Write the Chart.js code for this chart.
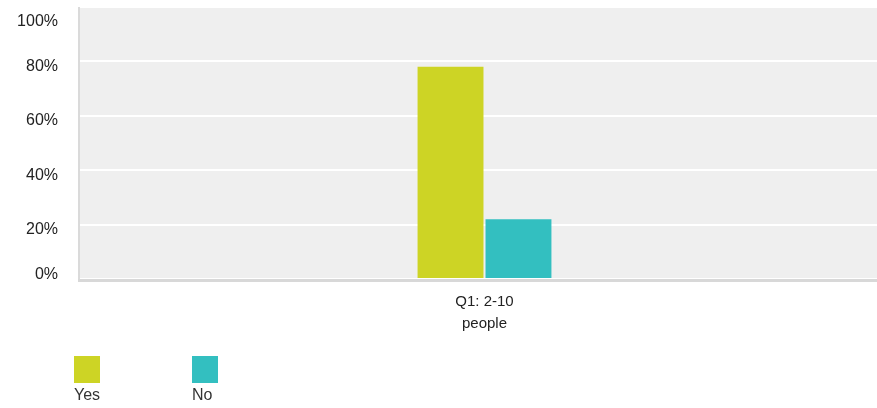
<!DOCTYPE html>
<html>
<head>
<meta charset="utf-8">
<script src="https://cdn.jsdelivr.net/npm/chart.js@4.4.1/dist/chart.umd.min.js"></script>
<style>
  html, body { margin: 0; padding: 0; background: #fff; overflow: hidden; }
  #wrap { width: 889px; height: 408px; }
</style>
</head>
<body>
<div id="wrap"><canvas id="survey-chart"></canvas></div>
<script>
// chart data
const categories = [['Q1: 2-10', 'people']];
const seriesNames = ['Yes', 'No'];
const yesValues = [78];
const noValues = [22];
const seriesColors = ['#CDD425', '#33BFC0'];
const yTicks = [0, 20, 40, 60, 80, 100];

// grey plot background + bottom axis line
const plotBackground = {
    id: 'plotBackground',
    beforeDraw(chart) {
        const { ctx, chartArea } = chart;
        ctx.save();
        ctx.fillStyle = '#EFEFEF';
        ctx.fillRect(chartArea.left, chartArea.top, chartArea.right - chartArea.left, chartArea.bottom - chartArea.top);
        ctx.fillStyle = '#DADADA';
        ctx.fillRect(chartArea.left - 2, chartArea.top, 2, chartArea.bottom - chartArea.top + 2);
        ctx.restore();
    },
    afterDatasetsDraw(chart) {
        const { ctx, chartArea } = chart;
        ctx.save();
        ctx.fillStyle = '#D8D8D8';
        ctx.fillRect(chartArea.left - 2, chartArea.bottom, chartArea.right - chartArea.left + 2, 3);
        ctx.restore();
    }
};

// legend: swatch on top, label underneath
const stackedLegend = {
    id: 'stackedLegend',
    afterDraw(chart) {
        const { ctx } = chart;
        ctx.save();
        ctx.font = '16px "Liberation Sans", Arial, sans-serif';
        ctx.textBaseline = 'top';
        chart.data.datasets.forEach((ds, i) => {
            const x = 74 + i * 118;
            ctx.fillStyle = ds.backgroundColor;
            ctx.fillRect(x, 356, 26, 27);
            ctx.fillStyle = '#333';
            ctx.fillText(ds.label, x, 388);
        });
        ctx.restore();
    }
};

// end labels sit inside the plot, like the original
function yLabel(v) {
    const text = v + '%';
    if (v === yTicks[yTicks.length - 1]) return ['', text];
    if (v === yTicks[0]) return [text, ''];
    return text;
}

const canvas = document.getElementById('survey-chart');
if (canvas) {
    new Chart(canvas.getContext('2d'), {
        type: 'bar',
        data: {
            labels: categories,
            datasets: [
                { label: seriesNames[0], data: yesValues, backgroundColor: seriesColors[0] },
                { label: seriesNames[1], data: noValues, backgroundColor: seriesColors[1] }
            ]
        },
        options: {
            responsive: true,
            maintainAspectRatio: false,
            animation: false,
            layout: { padding: { top: 7, right: 0, left: 0, bottom: 0 } },
            datasets: { bar: { categoryPercentage: 0.168, barPercentage: 0.97 } },
            plugins: {
                legend: { display: false },
                tooltip: { enabled: false }
            },
            scales: {
                x: {
                    grid: { display: false },
                    border: { display: false },
                    ticks: {
                        color: '#222',
                        padding: 4,
                        font: { family: '"Liberation Sans", Arial, sans-serif', size: 15, lineHeight: 1.45 }
                    },
                    afterFit(scale) { scale.height = 129; }
                },
                y: {
                    min: 0,
                    max: 100,
                    afterBuildTicks(scale) { scale.ticks = yTicks.map(v => ({ value: v })); },
                    grid: { color: '#FFFFFF', lineWidth: 2, drawTicks: false },
                    border: { display: false },
                    ticks: {
                        color: '#222',
                        padding: 22,
                        labelOffset: 5,
                        font: { family: '"Liberation Sans", Arial, sans-serif', size: 16, lineHeight: 1.15 },
                        callback: yLabel
                    },
                    afterFit(scale) {
                        scale.width = 80;
                        scale.paddingTop = 0;
                        scale.paddingBottom = 0;
                    }
                }
            }
        },
        plugins: [plotBackground, stackedLegend]
    });
} else {
    console.error('Error: survey-chart canvas not found!');
}
</script>
</body>
</html>
